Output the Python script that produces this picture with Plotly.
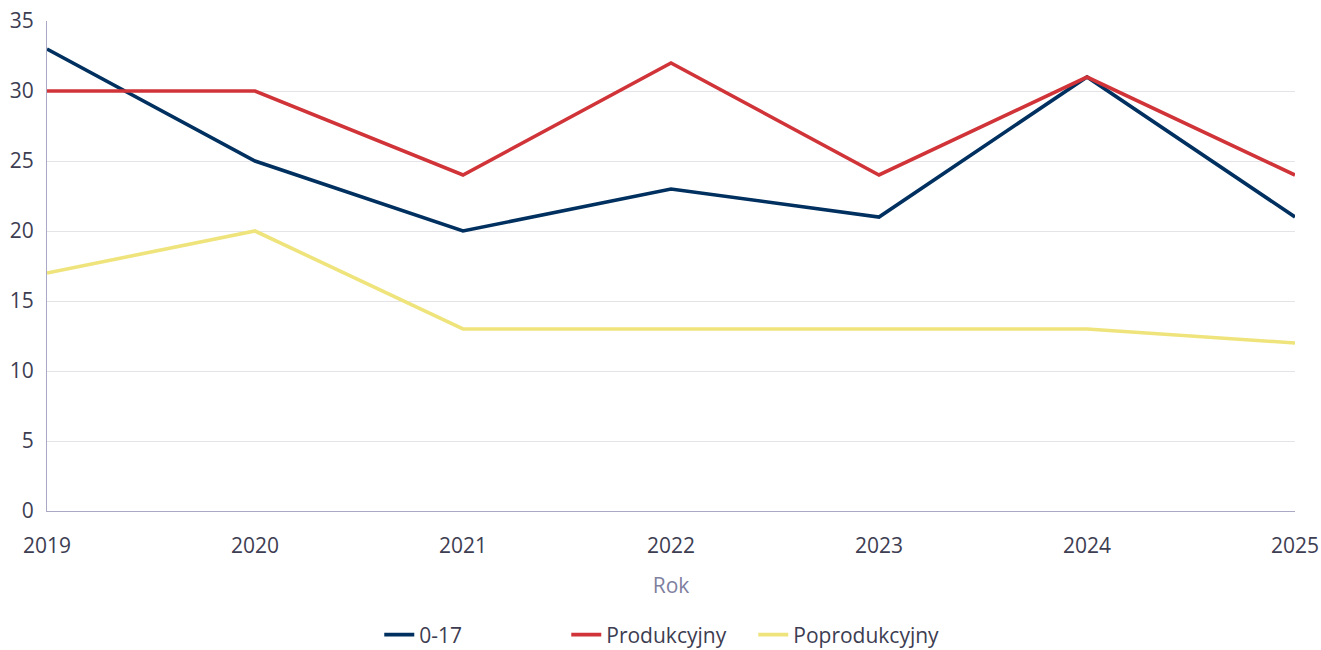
import plotly.graph_objects as go

years = [2019, 2020, 2021, 2022, 2023, 2024, 2025]
kids = [33, 25, 20, 23, 21, 31, 21]
working = [30, 30, 24, 32, 24, 31, 24]
retired = [17, 20, 13, 13, 13, 13, 12]

series = [
    ("0-17", kids, "#00305f"),
    ("Produkcyjny", working, "#d13438"),
    ("Poprodukcyjny", retired, "#efe47c"),
]

fig = go.Figure()
for name, vals, color in series:
    fig.add_trace(go.Scatter(
        x=years, y=vals, name=name, mode="lines",
        line=dict(color=color, width=3.6),
    ))

font_color = "#3d3d52"
fig.update_layout(
    width=1321, height=650,
    margin=dict(l=47, r=26, t=21, b=139, autoexpand=False),
    plot_bgcolor="white", paper_bgcolor="white",
    font=dict(family="Open Sans", size=21, color=font_color),
    showlegend=True,
    legend=dict(
        orientation="h", x=0.491, xanchor="center", y=-0.253, yanchor="middle",
        entrywidth=142, font=dict(size=21, color=font_color),
    ),
)
fig.update_xaxes(
    range=[2019, 2025], tickvals=years, showgrid=False, automargin=False,
    showline=True, linecolor="#a9a9c6", linewidth=1, ticklabeloverflow="allow",
    ticks="outside", ticklen=16, tickcolor="rgba(0,0,0,0)",
    title=dict(text="Rok", font=dict(color="#7f7f9f", size=21), standoff=20),
)
fig.update_yaxes(
    range=[0, 35], dtick=5, showgrid=True, gridcolor="#e3e3e8", automargin=False,
    showline=True, linecolor="#a9a9c6", linewidth=1, ticklabeloverflow="allow",
    zeroline=False, ticks="outside", ticklen=8, tickcolor="rgba(0,0,0,0)",
)

# drop the default 8px body margin so the figure fills the window
fig.write_html(
    "out.html",
    config={"displayModeBar": False},
    post_script="document.body.style.margin = '0';",
)
